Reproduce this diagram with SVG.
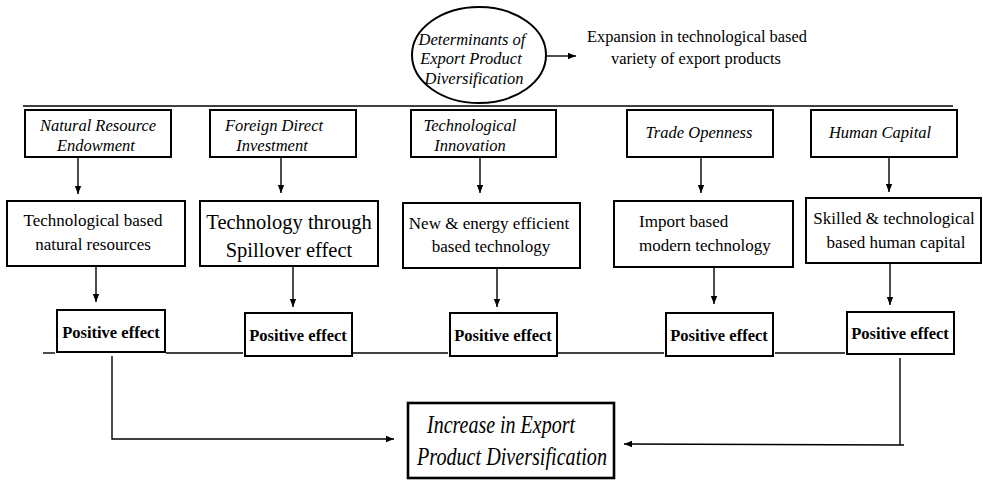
<svg xmlns="http://www.w3.org/2000/svg" width="983" height="480" viewBox="0 0 983 480">
<style>
.box{fill:#fff;stroke:#000;stroke-width:2}
.ln{fill:none;stroke:#000;stroke-width:1.4}
.ar{fill:none;stroke:#000;stroke-width:1.4;marker-end:url(#ah)}
</style>
<defs>
<marker id="ah" markerUnits="userSpaceOnUse" markerWidth="8" markerHeight="8" viewBox="0 0 8 8" refX="8" refY="4" orient="auto">
<path d="M0,0.8 L8,4 L0,7.2 Z" fill="#000"/>
</marker>
</defs>
<rect width="983" height="480" fill="#fff"/>

<g id="connectors">
<line class="ar" x1="546" y1="56" x2="576" y2="56"/>
<line class="ln" x1="23" y1="106" x2="953" y2="106" stroke-width="1.6"/>
<line class="ar" x1="78" y1="158" x2="78" y2="194"/>
<line class="ar" x1="281" y1="158" x2="281" y2="193"/>
<line class="ar" x1="480" y1="158" x2="480" y2="193"/>
<line class="ar" x1="701" y1="158" x2="701" y2="193"/>
<line class="ar" x1="889" y1="158" x2="889" y2="192"/>
<line class="ar" x1="96" y1="267" x2="96" y2="302"/>
<line class="ar" x1="293" y1="267" x2="293" y2="307"/>
<line class="ar" x1="497" y1="269" x2="497" y2="307"/>
<line class="ar" x1="714" y1="268" x2="714" y2="304"/>
<line class="ar" x1="890" y1="264" x2="890" y2="305"/>
<line class="ln" x1="43" y1="353" x2="55" y2="353"/>
<line class="ln" x1="166" y1="353" x2="243" y2="353"/>
<line class="ln" x1="353" y1="353" x2="448" y2="353"/>
<line class="ln" x1="558" y1="353" x2="664" y2="353"/>
<line class="ln" x1="775" y1="353" x2="845" y2="353"/>
<path class="ar" d="M112,356 V439 H394"/>
<path class="ln" d="M900,358 V445"/>
<line class="ar" x1="904" y1="445" x2="624" y2="444"/>
</g>

<g id="determinants">
<ellipse cx="479" cy="55" rx="67" ry="48" fill="#fff" stroke="#000" stroke-width="2"/>
<text x="472" y="45" font-family="Liberation Serif, serif" font-size="16.5" font-style="italic" text-anchor="middle">Determinants of</text>
<text x="471" y="64" font-family="Liberation Serif, serif" font-size="16.5" font-style="italic" text-anchor="middle">Export Product</text>
<text x="474" y="84" font-family="Liberation Serif, serif" font-size="16.5" font-style="italic" text-anchor="middle">Diversification</text>
</g>

<g id="expansion">
<text x="697" y="42" font-family="Liberation Serif, serif" font-size="16.4" text-anchor="middle">Expansion in technological based</text>
<text x="696" y="64" font-family="Liberation Serif, serif" font-size="16.4" text-anchor="middle">variety of export products</text>
</g>

<g id="natural-resource">
<rect class="box" x="25" y="110" width="146" height="47"/>
<text x="98" y="131" font-family="Liberation Serif, serif" font-size="16.5" font-style="italic" text-anchor="middle">Natural Resource</text>
<text x="96" y="151" font-family="Liberation Serif, serif" font-size="16.5" font-style="italic" text-anchor="middle">Endowment</text>
</g>
<g id="fdi">
<rect class="box" x="210" y="110" width="146" height="47"/>
<text x="274" y="131" font-family="Liberation Serif, serif" font-size="16.5" font-style="italic" text-anchor="middle">Foreign Direct</text>
<text x="272" y="151" font-family="Liberation Serif, serif" font-size="16.5" font-style="italic" text-anchor="middle">Investment</text>
</g>
<g id="tech-innovation">
<rect class="box" x="411" y="110" width="145" height="47"/>
<text x="470" y="131" font-family="Liberation Serif, serif" font-size="16.5" font-style="italic" text-anchor="middle">Technological</text>
<text x="470" y="151" font-family="Liberation Serif, serif" font-size="16.5" font-style="italic" text-anchor="middle">Innovation</text>
</g>
<g id="trade-openness">
<rect class="box" x="627" y="110" width="146" height="47"/>
<text x="699" y="138" font-family="Liberation Serif, serif" font-size="16.5" font-style="italic" text-anchor="middle">Trade Openness</text>
</g>
<g id="human-capital">
<rect class="box" x="811" y="110" width="146" height="47"/>
<text x="880" y="138" font-family="Liberation Serif, serif" font-size="16.5" font-style="italic" text-anchor="middle">Human Capital</text>
</g>

<g id="tech-natural">
<rect class="box" x="7" y="201" width="178" height="65"/>
<text x="93" y="226" font-family="Liberation Serif, serif" font-size="17" text-anchor="middle">Technological based</text>
<text x="93" y="250" font-family="Liberation Serif, serif" font-size="17" text-anchor="middle">natural resources</text>
</g>
<g id="tech-spillover">
<rect class="box" x="200" y="201" width="178" height="65"/>
<text x="289" y="229" font-family="Liberation Serif, serif" font-size="20.5" text-anchor="middle">Technology through</text>
<text x="289" y="257" font-family="Liberation Serif, serif" font-size="20.5" text-anchor="middle">Spillover effect</text>
</g>
<g id="new-energy">
<rect class="box" x="403" y="203" width="177" height="65"/>
<text x="489" y="229" font-family="Liberation Serif, serif" font-size="17" text-anchor="middle">New &amp; energy efficient</text>
<text x="491" y="252" font-family="Liberation Serif, serif" font-size="17" text-anchor="middle">based technology</text>
</g>
<g id="import-based">
<rect class="box" x="614" y="201" width="179" height="66"/>
<text x="639" y="227" font-family="Liberation Serif, serif" font-size="17">Import based</text>
<text x="639" y="251" font-family="Liberation Serif, serif" font-size="17">modern technology</text>
</g>
<g id="skilled">
<rect class="box" x="806" y="198" width="175" height="65"/>
<text x="894" y="224" font-family="Liberation Serif, serif" font-size="17" text-anchor="middle">Skilled &amp; technological</text>
<text x="896" y="248" font-family="Liberation Serif, serif" font-size="17" text-anchor="middle">based human capital</text>
</g>

<g id="pe1"><rect class="box" x="57" y="310" width="108" height="42"/><text x="111" y="338" font-family="Liberation Serif, serif" font-size="16.5" font-weight="bold" text-anchor="middle">Positive effect</text></g>
<g id="pe2"><rect class="box" x="245" y="313" width="107" height="43"/><text x="298" y="341" font-family="Liberation Serif, serif" font-size="16.5" font-weight="bold" text-anchor="middle">Positive effect</text></g>
<g id="pe3"><rect class="box" x="450" y="313" width="107" height="43"/><text x="503" y="341" font-family="Liberation Serif, serif" font-size="16.5" font-weight="bold" text-anchor="middle">Positive effect</text></g>
<g id="pe4"><rect class="box" x="666" y="313" width="107" height="43"/><text x="719" y="341" font-family="Liberation Serif, serif" font-size="16.5" font-weight="bold" text-anchor="middle">Positive effect</text></g>
<g id="pe5"><rect class="box" x="847" y="312" width="107" height="42"/><text x="900" y="339" font-family="Liberation Serif, serif" font-size="16.5" font-weight="bold" text-anchor="middle">Positive effect</text></g>

<g id="increase">
<rect x="408" y="403" width="206" height="75" fill="#fff" stroke="#000" stroke-width="2.6"/>
<text x="427" y="433" font-family="Liberation Serif, serif" font-size="26" font-style="italic" textLength="148" lengthAdjust="spacingAndGlyphs">Increase in Export</text>
<text x="417" y="465" font-family="Liberation Serif, serif" font-size="26" font-style="italic" textLength="190" lengthAdjust="spacingAndGlyphs">Product Diversification</text>
</g>
</svg>
